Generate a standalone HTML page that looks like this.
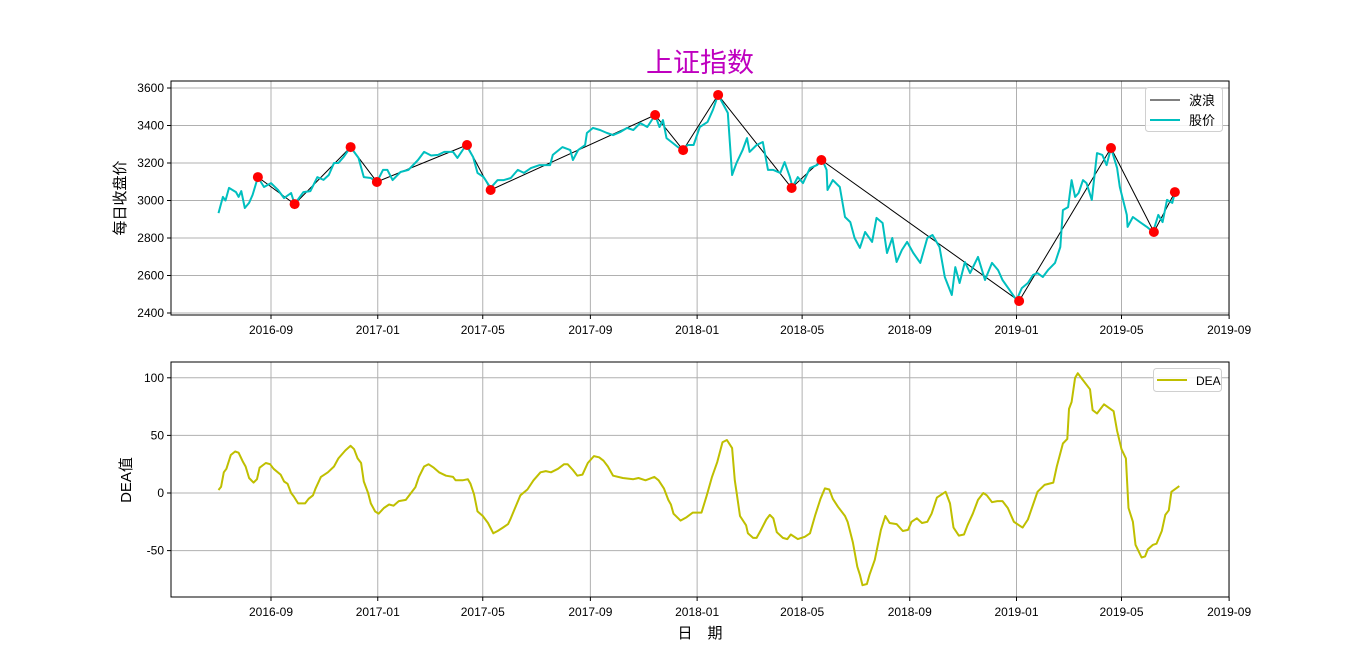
<!DOCTYPE html>
<html><head><meta charset="utf-8">
<style>
html,body{margin:0;padding:0;background:#fff;}
svg{display:block;font-family:"Liberation Sans","WenQuanYi Zen Hei","Noto Sans CJK SC",sans-serif;}
</style></head>
<body>
<svg id="chart" width="1366" height="671" viewBox="0 0 1366 671" xmlns="http://www.w3.org/2000/svg">
<rect width="1366" height="671" fill="#fff"/>
<text x="700" y="72" text-anchor="middle" font-size="27" fill="#bf00bf">上证指数</text>
<text transform="translate(125,198) rotate(-90)" text-anchor="middle" font-size="15" fill="#000">每日收盘价</text>
<text transform="translate(131,480) rotate(-90)" text-anchor="middle" font-size="15" fill="#000">DEA值</text>
<text x="700" y="638" text-anchor="middle" font-size="15" fill="#000">日　期</text>
<g id="topPanel"></g>
<g id="botPanel"></g>
</svg>
<script>
// day offsets are days since 2016-07-01
var priceDays=[2,7,10,14,22,25,28,32,37,41,47,54,62,70,77,85,89,99,107,115,122,128,134,139,145,153,162,168,176,183,190,195,201,210,219,230,237,245,253,260,270,275,285,293,298,305,313,321,328,336,344,351,359,369,381,384,395,404,407,413,421,423,430,438,446,453,461,469,476,484,492,501,506,510,514,521,527,533,538,545,552,561,567,573,578,584,589,594,601,606,609,617,624,630,636,644,649,655,658,664,670,678,686,692,697,698,704,712,718,724,729,735,741,749,754,761,766,772,777,783,789,796,804,812,818,826,832,840,844,849,855,861,870,878,886,893,898,906,914,920,927,933,938,944,950,958,964,967,973,977,981,985,990,994,1000,1006,1012,1017,1022,1029,1032,1040,1041,1047,1055,1063,1070,1076,1081,1086,1092,1095];
var priceVals=[2933,3019,3000,3067,3045,3019,3050,2960,2987,3030,3125,3072,3093,3056,3013,3040,2981,3045,3050,3125,3110,3136,3200,3200,3232,3285,3227,3125,3120,3099,3163,3163,3109,3152,3163,3216,3259,3240,3243,3259,3259,3227,3296,3232,3147,3125,3067,3109,3109,3120,3163,3147,3173,3189,3189,3243,3285,3269,3216,3269,3296,3360,3387,3376,3360,3349,3365,3387,3376,3413,3392,3456,3392,3429,3333,3307,3285,3269,3296,3296,3392,3419,3483,3563,3520,3467,3136,3200,3269,3333,3259,3296,3312,3163,3163,3147,3205,3125,3072,3125,3093,3173,3189,3216,3163,3056,3109,3072,2912,2885,2800,2747,2832,2779,2907,2880,2720,2800,2672,2736,2779,2720,2667,2800,2816,2752,2592,2496,2645,2560,2672,2613,2699,2576,2667,2629,2576,2523,2469,2533,2560,2603,2613,2592,2629,2667,2752,2949,2965,3109,3019,3040,3109,3093,3003,3253,3243,3189,3280,3173,3072,2923,2859,2912,2885,2859,2832,2923,2885,3003,2987,3045];
var waveDays=[47,89,153,183,286,313,501,533,573,657,691,917,1022,1071,1095];
var waveVals=[3125,2981,3285,3099,3296,3056,3456,3269,3563,3067,3216,2464,3280,2832,3045];
var deaDays=[2,5,8,11,16,21,25,30,33,37,42,46,49,56,61,65,73,77,81,85,88,93,101,105,110,113,119,127,134,139,147,153,157,161,165,168,173,176,181,185,191,197,202,208,216,222,227,231,237,242,248,254,262,270,273,281,287,290,294,298,304,310,316,321,327,333,336,342,347,355,362,370,376,382,390,397,401,407,412,418,424,431,437,442,447,453,464,476,482,490,500,505,511,516,519,522,530,537,544,554,560,566,572,578,583,589,592,594,598,605,607,613,617,622,628,632,636,640,647,652,656,664,672,678,684,690,695,700,704,710,718,721,727,732,735,738,743,746,752,759,764,769,777,784,790,794,800,806,812,817,823,833,838,842,848,854,858,864,870,876,880,886,892,898,904,911,917,921,927,933,938,946,956,960,967,972,974,977,981,984,989,998,1001,1006,1014,1025,1029,1034,1039,1042,1047,1050,1057,1061,1064,1070,1074,1080,1084,1088,1091,1100];
var deaVals=[2.6,5.5,18,21,33,36,35,27,23,13,9,12,22,26,25,21,16,10,8,0,-3,-9,-9,-5,-2,4,14,18,23,30,37,41,38,30,26,10,0,-9,-16,-18,-13,-10,-11,-7,-6,0,5,14,23,25,22,18,15,14,11,11,12,8,-1,-16,-20,-26,-35,-33,-30,-27,-22,-11,-2,3,11,18,19,18,21,25,25,20,15,16,26,32,31,28,23,15,13,12,13,11,14,11,4,-6,-10,-18,-24,-21,-17,-17,-2,14,27,44,46,39,11,1,-20,-28,-35,-39,-39,-32,-23,-19,-22,-34,-39,-40,-36,-40,-38,-35,-19,-5,4,3,-5,-12,-20,-25,-43,-64,-71,-80,-79,-71,-58,-32,-20,-26,-27,-33,-32,-25,-22,-26,-25,-18,-4,1,-9,-30,-37,-36,-28,-18,-6,0,-2,-8,-7,-7,-13,-25,-28,-30,-23,-10,1,7,9,23,43,47,73,79,100,104,99,90,72,69,77,71,54,38,30,-13,-25,-45,-56,-55,-49,-45,-44,-33,-19,-15,1,6];
var priceTicks=[2400,2600,2800,3000,3200,3400,3600];
var deaTicks=[-50,0,50,100];
var monthTicks=["2016-09","2017-01","2017-05","2017-09","2018-01","2018-05","2018-09","2019-01","2019-05","2019-09"];

var NS="http://www.w3.org/2000/svg";
var BASE=Date.UTC(2016,6,1);
function dayOf(s){var p=s.split("-");return (Date.UTC(+p[0],+p[1]-1,1)-BASE)/86400000;}
function X(d){return 271+(d-62)*0.875;}
function YP(v){return 88+(3600-v)/200*37.5;}
function YD(v){return 493-v*57.6/50;}
function mk(parent,tag,attrs){var e=document.createElementNS(NS,tag);for(var k in attrs)e.setAttribute(k,attrs[k]);parent.appendChild(e);return e;}

function axes(g,t0,b0,ticks,yf,prefix){
  var L=171,R=1229;
  monthTicks.forEach(function(m){
    var x=X(dayOf(m));
    var gl=mk(g,"line",{x1:x,x2:x,y1:t0,y2:b0,stroke:"#b0b0b0","stroke-width":1});
    
    
    mk(g,"line",{x1:x,x2:x,y1:b0,y2:b0+4,stroke:"#000"});
    var t=mk(g,"text",{x:x,y:b0+19,"text-anchor":"middle","font-size":12,fill:"#000"});
    t.textContent=m;
    
    
  });
  ticks.forEach(function(v){
    var y=yf(v);
    var gl=mk(g,"line",{x1:L,x2:R,y1:y,y2:y,stroke:"#b0b0b0","stroke-width":1});
    
    
    mk(g,"line",{x1:L-4,x2:L,y1:y,y2:y,stroke:"#000"});
    var t=mk(g,"text",{x:L-7,y:y+4,"text-anchor":"end","font-size":12,fill:"#000"});
    t.textContent=v;
    
    
  });
}
function poly(g,days,vals,yf,color,w){
  var pts=days.map(function(d,i){return X(d).toFixed(1)+","+yf(vals[i]).toFixed(1);}).join(" ");
  return mk(g,"polyline",{points:pts,fill:"none",stroke:color,"stroke-width":w,"stroke-linejoin":"round"});
}
var topG=document.getElementById("topPanel");


axes(topG,81,315,priceTicks,YP,"price-");
var wl=poly(topG,waveDays,waveVals,YP,"#000",1);


var pl=poly(topG,priceDays,priceVals,YP,"#00bfbf",2);


waveDays.forEach(function(d,i){
  var c=mk(topG,"circle",{cx:X(d),cy:YP(waveVals[i]),r:5,fill:"#ff0000"});
  
  
});
var fr=mk(topG,"rect",{x:171,y:81,width:1058,height:234,fill:"none",stroke:"#000","stroke-width":1});



var botG=document.getElementById("botPanel");


axes(botG,362,597,deaTicks,YD,"dea-");
var dl=poly(botG,deaDays,deaVals,YD,"#bfbf00",2);


var fr2=mk(botG,"rect",{x:171,y:362,width:1058,height:235,fill:"none",stroke:"#000","stroke-width":1});



// legends
var lg=mk(topG,"g",{});


mk(lg,"rect",{x:1145.5,y:87.5,width:77,height:44,rx:3,fill:"#fff","fill-opacity":0.85,stroke:"#d0d0d0"});
mk(lg,"line",{x1:1150,x2:1180,y1:100,y2:100,stroke:"#000","stroke-width":1});
var t1=mk(lg,"text",{x:1189,y:105,"font-size":13,fill:"#000"});t1.textContent="波浪";


mk(lg,"line",{x1:1150,x2:1180,y1:120,y2:120,stroke:"#00bfbf","stroke-width":2});
var t2=mk(lg,"text",{x:1189,y:125,"font-size":13,fill:"#000"});t2.textContent="股价";



var lg2=mk(botG,"g",{});


mk(lg2,"rect",{x:1153.5,y:368.5,width:68,height:23,rx:3,fill:"#fff","fill-opacity":0.85,stroke:"#d0d0d0"});
mk(lg2,"line",{x1:1157,x2:1187,y1:380,y2:380,stroke:"#bfbf00","stroke-width":2});
var t3=mk(lg2,"text",{x:1196,y:385,"font-size":12,fill:"#000"});t3.textContent="DEA";


</script>
</body></html>
